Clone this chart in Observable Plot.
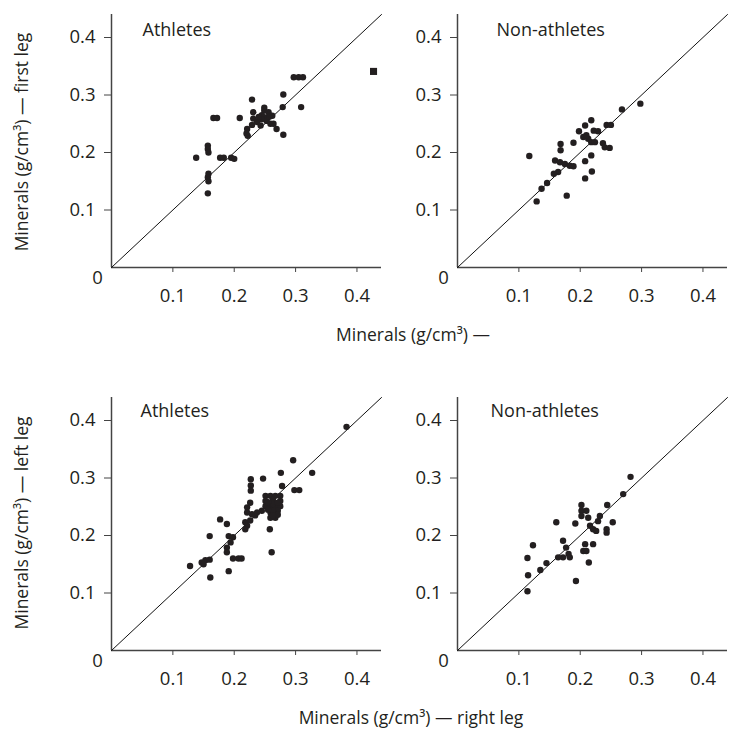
<!DOCTYPE html>
<html><head><meta charset="utf-8">
<script src="https://cdn.jsdelivr.net/npm/d3@7"></script>
<script src="https://cdn.jsdelivr.net/npm/@observablehq/plot@0.6"></script>
<style>
body{margin:0;background:#fff;}
#chart{position:relative;width:729px;height:730px;font-family:"Open Sans",sans-serif;color:#231f20;overflow:hidden;}
.panel{position:absolute;}
.lab{position:absolute;font-size:17.5px;white-space:nowrap;line-height:1;transform:translate(-50%,-50%);}
.lab.rot{transform:translate(-50%,-50%) rotate(-90deg);}
</style></head><body><div id="chart"></div>
<script>
// ---- data ----
const tickValues = [0.1, 0.2, 0.3, 0.4];
const axisMax = 0.44;
const panelTitles = ["Athletes", "Non-athletes", "Athletes", "Non-athletes"];
const rowYLabels = ["Minerals (g/cm³) — first leg", "Minerals (g/cm³) — left leg"];
const rowXLabels = ["Minerals (g/cm³) —", "Minerals (g/cm³) — right leg"];

// Athletes, first leg (top left)
const athFirstX = [0.297,0.305,0.312,0.280,0.279,0.309,0.229,0.166,0.172,0.209,0.249,0.249,0.256,0.231,0.231,0.237,0.243,0.251,0.253,0.262,0.259,0.221,0.220,0.222,0.229,0.264,0.245,0.245,0.257,0.240,0.269,0.280,0.157,0.157,0.158,0.138,0.177,0.183,0.195,0.200,0.158,0.157,0.158,0.157];
const athFirstY = [0.331,0.331,0.331,0.301,0.279,0.279,0.292,0.260,0.260,0.260,0.278,0.273,0.270,0.270,0.259,0.253,0.247,0.261,0.255,0.264,0.250,0.241,0.233,0.229,0.248,0.250,0.265,0.258,0.262,0.262,0.241,0.231,0.212,0.206,0.200,0.191,0.191,0.191,0.191,0.189,0.163,0.157,0.150,0.129];
const athFirstMarkerX = [0.427];
const athFirstMarkerY = [0.341];

// Non-athletes, first leg (top right)
const nonFirstX = [0.298,0.268,0.243,0.250,0.218,0.208,0.198,0.222,0.229,0.205,0.213,0.218,0.224,0.210,0.189,0.168,0.168,0.117,0.237,0.240,0.248,0.218,0.208,0.159,0.167,0.175,0.183,0.189,0.164,0.157,0.219,0.208,0.146,0.137,0.178,0.129];
const nonFirstY = [0.285,0.275,0.248,0.248,0.256,0.247,0.237,0.238,0.237,0.227,0.224,0.218,0.218,0.230,0.217,0.215,0.204,0.194,0.216,0.209,0.208,0.195,0.185,0.186,0.183,0.180,0.177,0.176,0.166,0.163,0.167,0.155,0.147,0.137,0.125,0.115];

// Athletes, right vs left leg (bottom left)
const athLegX = [0.383,0.296,0.327,0.276,0.247,0.227,0.227,0.227,0.298,0.306,0.278,0.251,0.259,0.267,0.275,0.251,0.275,0.263,0.251,0.259,0.267,0.275,0.259,0.267,0.259,0.267,0.245,0.263,0.255,0.271,0.263,0.255,0.271,0.271,0.263,0.221,0.221,0.226,0.229,0.234,0.237,0.218,0.221,0.226,0.218,0.258,0.177,0.188,0.160,0.191,0.198,0.194,0.188,0.188,0.198,0.207,0.212,0.261,0.147,0.153,0.160,0.150,0.128,0.191,0.161];
const athLegY = [0.389,0.331,0.309,0.309,0.299,0.298,0.287,0.278,0.279,0.279,0.286,0.269,0.269,0.269,0.269,0.260,0.260,0.262,0.251,0.249,0.249,0.251,0.240,0.237,0.231,0.231,0.243,0.255,0.258,0.243,0.243,0.245,0.236,0.257,0.235,0.249,0.240,0.257,0.237,0.235,0.240,0.223,0.217,0.226,0.211,0.211,0.228,0.220,0.199,0.199,0.197,0.188,0.179,0.171,0.160,0.160,0.160,0.171,0.153,0.157,0.158,0.150,0.147,0.138,0.127];

// Non-athletes, right vs left leg (bottom right)
const nonLegX = [0.282,0.270,0.244,0.202,0.202,0.202,0.210,0.213,0.232,0.229,0.161,0.192,0.253,0.216,0.221,0.226,0.243,0.243,0.123,0.172,0.177,0.181,0.172,0.164,0.183,0.208,0.221,0.205,0.210,0.114,0.145,0.135,0.214,0.115,0.193,0.114];
const nonLegY = [0.302,0.272,0.253,0.253,0.243,0.234,0.243,0.231,0.234,0.225,0.223,0.221,0.223,0.217,0.211,0.208,0.211,0.205,0.183,0.191,0.179,0.168,0.162,0.162,0.162,0.185,0.185,0.173,0.173,0.161,0.152,0.140,0.153,0.131,0.121,0.103];

// ---- drawing ----
const ink = "#231f20";
const diag = [0, axisMax];
const zip = (xs, ys) => xs.map((x, i) => ({x, y: ys[i]}));

function panel(points, title, opt) {
  const marks = [
    Plot.ruleX([0], {stroke: "#444", strokeWidth: 1.5}),
    Plot.ruleY([0], {stroke: "#444", strokeWidth: 1.5}),
    Plot.axisX(tickValues, {tickSize: 5, tickPadding: 16, tickFormat: d => d.toFixed(1), stroke: "#444", fill: ink, fontSize: 18.5, label: null}),
    Plot.axisY(tickValues, {tickSize: 7, tickPadding: 9, tickFormat: d => d.toFixed(1), stroke: "#444", fill: ink, fontSize: 18.5, label: null}),
    Plot.line(diag, {x: d => d, y: d => d, stroke: "#111", strokeWidth: 1}),
    Plot.dot(points, {x: "x", y: "y", r: 3.2, fill: ink, stroke: "none"}),
    Plot.text([title], {frameAnchor: "top-left", dx: opt.tdx, dy: opt.tdy, textAnchor: "start", lineAnchor: "top", fill: ink, fontSize: 18}),
    Plot.text([0], {x: d => d, y: d => d, text: d => String(d), dx: -14, dy: 11, fill: ink, fontSize: 18.5})
  ];
  if (opt.marker) marks.push(Plot.dot(opt.marker, {x: "x", y: "y", symbol: "square", r: 4, fill: ink, stroke: "none"}));
  const svg = Plot.plot({
    width: opt.width, height: 320,
    marginLeft: opt.ml, marginRight: opt.mr, marginTop: 14, marginBottom: 53,
    x: {domain: [0, axisMax]},
    y: {domain: [0, axisMax]},
    style: {fontFamily: "'Open Sans', sans-serif", fontSize: "18px", color: ink, background: "transparent", overflow: "visible"},
    marks
  });
  svg.classList.add("panel");
  svg.style.left = opt.left + "px";
  svg.style.top = opt.top + "px";
  return svg;
}

const chart = document.getElementById("chart");
chart.append(
  panel(zip(athFirstX, athFirstY), panelTitles[0], {left: 0, top: 0, width: 390, ml: 111, mr: 9, tdx: 31, tdy: 9, marker: zip(athFirstMarkerX, athFirstMarkerY)}),
  panel(zip(nonFirstX, nonFirstY), panelTitles[1], {left: 345, top: 0, width: 384, ml: 112, mr: 2, tdx: 39, tdy: 9}),
  panel(zip(athLegX, athLegY), panelTitles[2], {left: 0, top: 383, width: 390, ml: 111, mr: 9, tdx: 29, tdy: 7}),
  panel(zip(nonLegX, nonLegY), panelTitles[3], {left: 345, top: 383, width: 384, ml: 112, mr: 2, tdx: 33, tdy: 7})
);

function label(text, x, y, rot) {
  const d = document.createElement("div");
  d.className = "lab" + (rot ? " rot" : "");
  d.textContent = text;
  d.style.left = x + "px";
  d.style.top = y + "px";
  chart.append(d);
}
label(rowYLabels[0], 22, 142, true);
label(rowYLabels[1], 22, 523, true);
label(rowXLabels[0], 413, 335, false);
label(rowXLabels[1], 411, 718, false);
</script>
</body></html>
